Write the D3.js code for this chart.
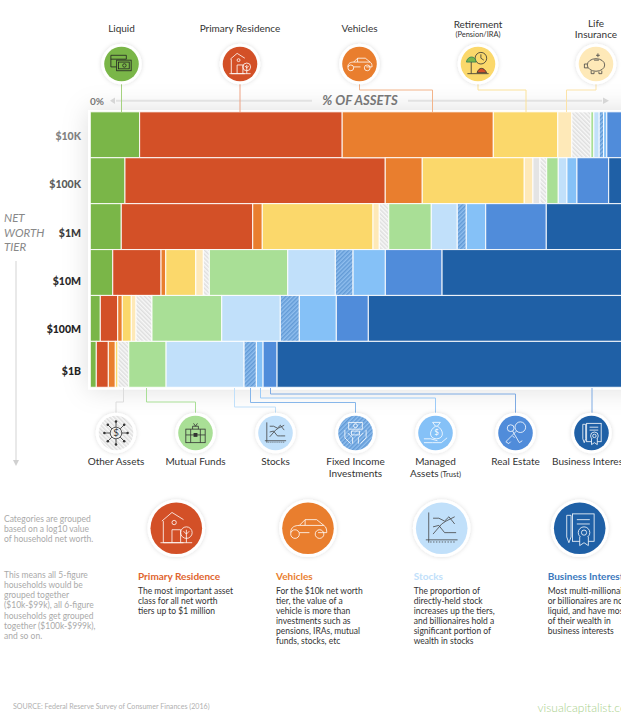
<!DOCTYPE html>
<html><head><meta charset="utf-8">
<script src="https://cdn.jsdelivr.net/npm/d3@7/dist/d3.min.js"></script>
<style>
html,body{margin:0;padding:0;background:#fff}
svg{display:block}
text{font-family:Lato,"Open Sans",sans-serif}
</style></head><body><div id="chart"></div>
<script>
const tiers=['$10K','$100K','$1M','$10M','$100M','$1B'];
const tierLabelY=[136.7,185,233.3,281.7,330,371.7];
const tierLabelColors=['#808080','#5c5c5c','#3a3a3a','#2a2a2a','#222','#222'];
const liquid=[9.1,6.4,5.72,4.14,1.85,1.11];
const primaryResidence=[37.4,48.05,24.26,8.92,3.21,2.22];
const vehicles=[27.9,6.83,1.77,0.87,0.85,1.29];
const retirement=[11.9,18.83,20.44,5.54,1.66,0.5];
const lifeInsurance=[2.6,1.6,1.16,1.4,0.87,0];
const otherPlain=[0,1.3,0,0,0,0];
const otherAssets=[3.5,1.24,1.74,1.11,2.95,1.98];
const mutualFunds=[0.55,2.14,7.86,14.47,12.87,6.89];
const stocks=[1.0,1.6,4.8,8.79,10.82,14.4];
const fixedIncome=[0.8,0,1.66,3.27,3.51,2.27];
const managedAssets=[0.6,1.85,3.58,5.96,6.83,1.24];
const realEstate=[4.65,5.85,11.19,10.47,5.91,2.58];
const businessInterests=[0,4.31,15.82,35.06,48.67,65.52];

const seriesKeys=['liquid','primaryResidence','vehicles','retirement','lifeInsurance','otherPlain','otherAssets','mutualFunds','stocks','fixedIncome','managedAssets','realEstate','businessInterests'];
const seriesValues=[liquid,primaryResidence,vehicles,retirement,lifeInsurance,otherPlain,otherAssets,mutualFunds,stocks,fixedIncome,managedAssets,realEstate,businessInterests];
const seriesColors=['#7ab648','#d35027','#e97e2e','#fbd86b','#fee9b8','#e4e4e4','url(#hatchGray)','#a9df96','#c1e0fa','url(#hatchBlue)','#85c1f7','#508cda','#1f60a6'];

const W=621,H=722;
const svg=d3.select('#chart').append('svg').attr('width',W).attr('height',H);
const defs=svg.append('defs');
function hatch(id,bg,fg,size,rot){
  const p=defs.append('pattern').attr('id',id).attr('width',size).attr('height',size)
    .attr('patternUnits','userSpaceOnUse').attr('patternTransform',`rotate(${rot})`);
  p.append('rect').attr('width',size).attr('height',size).attr('fill',bg);
  p.append('rect').attr('width',size/2).attr('height',size).attr('fill',fg);
}
hatch('hatchGray','#f8f8f8','#dedede',3,-45);
hatch('hatchBlue','#8fbeee','#639bd6',3,45);
const sh=defs.append('filter').attr('id','cardShadow').attr('x','-20%').attr('y','-20%').attr('width','140%').attr('height','140%');
sh.append('feDropShadow').attr('dx',0).attr('dy',0).attr('stdDeviation',13).attr('flood-color','#000').attr('flood-opacity',0.13);
const sh2=defs.append('filter').attr('id','iconShadow').attr('x','-40%').attr('y','-40%').attr('width','180%').attr('height','180%');
sh2.append('feDropShadow').attr('dx',0).attr('dy',0).attr('stdDeviation',2).attr('flood-color','#000').attr('flood-opacity',0.14);

svg.append('rect').attr('x',88).attr('y',110).attr('width',640).attr('height',279.5)
  .attr('fill','#fff').attr('filter','url(#cardShadow)');

const x=d3.scaleLinear().domain([0,100]).range([90.3,632]);
const y=d3.scaleBand().domain(tiers).range([111.8,387.3]);
const rows=tiers.map((t,i)=>{const o={tier:t};seriesKeys.forEach((k,j)=>o[k]=seriesValues[j][i]);return o;});
const stacked=d3.stack().keys(seriesKeys)(rows);

svg.append('g').selectAll('g').data(stacked).join('g')
  .attr('fill',(d,i)=>seriesColors[i])
  .selectAll('rect').data(d=>d.filter(s=>s[1]-s[0]>0)).join('rect')
  .attr('x',d=>x(d[0])).attr('y',d=>y(d.data.tier))
  .attr('width',d=>x(d[1])-x(d[0])).attr('height',y.bandwidth())
  .attr('stroke','#fff').attr('stroke-width',1.1).attr('stroke-opacity',0.85);

const labelScale=d3.scaleOrdinal(tiers,tierLabelY);
const axis=svg.append('g').attr('transform','translate(87,-0.5)').call(d3.axisLeft(labelScale).tickSize(0).tickPadding(6));
axis.select('.domain').remove();
axis.selectAll('text').attr('font-size',10.5).attr('font-weight',900)
  .attr('fill',(d,i)=>tierLabelColors[i]).style('font-family','Lato,sans-serif');

const T=(s,tx,ty,o={})=>svg.append('text').text(s).attr('x',tx).attr('y',ty)
  .attr('font-size',o.size||10).attr('fill',o.fill||'#333').attr('text-anchor',o.anchor||'start')
  .attr('font-weight',o.weight||400).attr('font-style',o.style||'normal');

// % of assets axis header
T('0%',90,104.5,{size:10,fill:'#777',weight:700});
T('% OF ASSETS',360,105,{size:13.2,fill:'#777',weight:700,style:'italic',anchor:'middle'});
const grid='#e2e2e2';
const ln=(a,b,c,d,col,w)=>svg.append('line').attr('x1',a).attr('y1',b).attr('x2',c).attr('y2',d).attr('stroke',col).attr('stroke-width',w||1);
ln(116,100.8,312,100.8,grid,2); ln(408,100.8,602,100.8,grid,2);
svg.append('path').attr('d','M110,100.8L115,97.5V104Z').attr('fill','#d6d6d6');
svg.append('path').attr('d','M609,100.8L603,97.5V104Z').attr('fill','#d6d6d6');
// net worth tier
['NET','WORTH','TIER'].forEach((s,i)=>T(s,4,222+i*14.5,{size:11.5,fill:'#888',style:'italic'}));
ln(16,261,16,460,grid,1.5);
svg.append('path').attr('d','M16,466L13,460H19Z').attr('fill','#d0d0d0');

// connectors
const conn=(pts,col)=>svg.append('path').attr('d',d3.line()(pts)).attr('fill','none').attr('stroke',col).attr('stroke-width',1);
conn([[121.5,84],[121.5,112]],'#a5d27f');
conn([[240,84],[240,112]],'#eea283');
conn([[359.5,84],[359.5,90],[432.5,90],[432.5,112]],'#f3b48a');
conn([[478,84],[478,90],[526,90],[526,112]],'#fbe29a');
conn([[596,84],[596,90],[566.5,90],[566.5,112]],'#fce3a8');
conn([[123.5,388],[123.5,402],[116,402],[116,413]],'#dcdcdc');
conn([[146.5,388],[146.5,402],[195.5,402],[195.5,413]],'#a9df96');
conn([[234.5,388],[234.5,407],[275.5,407],[275.5,413]],'#c1e0fa');
conn([[250.5,388],[250.5,402.5],[355.5,402.5],[355.5,413]],'#86b6ea');
conn([[260.5,388],[260.5,398],[435.5,398],[435.5,413]],'#9ccbf8');
conn([[270.5,388],[270.5,394],[515.5,394],[515.5,413]],'#7fabe3');
conn([[592,388],[592,413]],'#7fabe3');

// icons (local coordinates, roughly -12..12)
const icons={
 liquid:(g,c)=>{g.attr('stroke',c);g.append('path').attr('d','M-11,-9H5V-5M-11,-9V3H-5M-11,-5H5');g.append('rect').attr('x',-5).attr('y',-4).attr('width',15).attr('height',11).attr('fill','#7ab648');g.append('rect').attr('x',-3).attr('y',-2).attr('width',11).attr('height',7);g.append('circle').attr('cx',3).attr('cy',1.5).attr('r',1.8);},
 house:(g,c)=>{g.append('path').attr('stroke',c).attr('d','M-10,-5L-3,-11L5,-6M-9,-5V10H5M-3,10V1H3V10M-11,10H11M-3,-4a1.5,1.5 0 1,0 3,0a1.5,1.5 0 1,0 -3,0');g.append('circle').attr('stroke',c).attr('cx',7).attr('cy',3).attr('r',4);g.append('path').attr('stroke',c).attr('d','M7,1V10M5,2L7,4L9,2');},
 car:(g,c)=>{g.append('path').attr('stroke',c).attr('d','M-12,3C-12,-1 -9,-2 -6,-2L-2,-6H6L11,-2C13,-1 13,2 13,3H7M1,3H-6M-2,-6V-2H11M-6,-2H-2');g.append('circle').attr('stroke',c).attr('cx',-9).attr('cy',4).attr('r',3);g.append('circle').attr('stroke',c).attr('cx',8).attr('cy',4).attr('r',3);},
 retire:(g,c)=>{g.append('circle').attr('stroke',c).attr('cx',3).attr('cy',-6).attr('r',6);g.append('path').attr('stroke',c).attr('d','M3,-10V-6L6,-4');g.append('path').attr('stroke','#2e7d5b').attr('fill','#7ab648').attr('d','M-12,-2C-11,-9 -2,-9 -2,-2Z');g.append('path').attr('stroke','#333').attr('d','M-7,-2V10M-11,10H11');g.append('path').attr('stroke','#333').attr('fill','#d35027').attr('d','M-1,9C1,3 6,3 9,9Z');},
 pig:(g,c)=>{g.append('ellipse').attr('stroke',c).attr('cx',0).attr('cy',1).attr('rx',9).attr('ry',6.5);g.append('path').attr('stroke',c).attr('d','M-9,0H-12V4H-8M-5,7V10H-2V8M3,8V10H6V7M-2,-4H3M2,-11V-7M0,-9H4');},
 other:(g,c)=>{g.append('circle').attr('stroke',c).attr('r',6);g.append('text').text('$').attr('text-anchor','middle').attr('y',3.5).attr('font-size',10).attr('fill',c).attr('stroke','none');d3.range(8).forEach(i=>{const a=i*Math.PI/4,sx=Math.cos(a),sy=Math.sin(a);g.append('line').attr('stroke',c).attr('x1',6*sx).attr('y1',6*sy).attr('x2',12*sx).attr('y2',12*sy);g.append('circle').attr('fill',c).attr('stroke','none').attr('cx',12*sx).attr('cy',12*sy).attr('r',1.3);});},
 funds:(g,c)=>{g.append('rect').attr('stroke',c).attr('x',-10).attr('y',-4).attr('width',20).attr('height',14);g.append('path').attr('stroke',c).attr('d','M-10,2H10M-5,-4V10M5,-4V10M-3,-4V-7H3V-4M-2,-10L0,-7L2,-10');g.append('rect').attr('fill',c).attr('x',-2).attr('y',0).attr('width',4).attr('height',4);},
 stocks:(g,c)=>{g.append('path').attr('stroke',c).attr('d','M-9,-11V10M-11,8H11M-6,-7H-2L2,-5L5,-8L9,-3M-6,-1L-2,-2L2,3H5L10,3M-6,4L0,-3L3,-5L9,-8');g.append('path').attr('stroke',c).attr('stroke-dasharray','1 1').attr('d','M-8,9.5H10');},
 fixed:(g,c)=>{g.append('rect').attr('stroke',c).attr('x',-7).attr('y',-11).attr('width',14).attr('height',7);g.append('circle').attr('stroke',c).attr('cx',0).attr('cy',-7.5).attr('r',2);g.append('path').attr('stroke',c).attr('d','M-11,-3V5L-5,11M11,-3V5L5,11M-8,0L-3,5V11M8,0L3,5V11');g.append('rect').attr('stroke',c).attr('x',-4).attr('y',-2).attr('width',8).attr('height',4);},
 managed:(g,c)=>{g.append('path').attr('stroke',c).attr('d','M-3,-11H5L2,-7H0ZM0,-7C-7,-3 -7,6 1,6C9,6 9,-3 2,-7M-12,10H-3L6,10L12,5M-12,6H-5L2,8');g.append('text').text('$').attr('x',1).attr('y',2.5).attr('text-anchor','middle').attr('font-size',8).attr('fill',c).attr('stroke','none');},
 keys:(g,c)=>{g.append('circle').attr('stroke',c).attr('cx',5).attr('cy',-6).attr('r',5.5);g.append('path').attr('stroke',c).attr('d','M1,-2L-10,9L-7,11L-5,9M-3,3L-1,5');g.append('circle').attr('stroke',c).attr('cx',-5).attr('cy',-5).attr('r',3.5);g.append('path').attr('stroke',c).attr('d','M-3,-2L4,10L7,8');},
 business:(g,c)=>{g.append('rect').attr('stroke',c).attr('x',-5).attr('y',-10).attr('width',15).attr('height',19);g.append('path').attr('stroke',c).attr('d','M-2,-6H7M-2,-3H7M-9,-9H-6V6L-7.5,10L-9,6Z');g.append('circle').attr('stroke',c).attr('cx',3).attr('cy',3).attr('r',4);g.append('circle').attr('stroke',c).attr('cx',3).attr('cy',3).attr('r',1.8);g.append('path').attr('stroke',c).attr('fill','#1f60a6').attr('d','M0,6V12L3,10L6,12V6');}
};
function icon(cx,cy,r,fill,name,col){
  const g=svg.append('g').attr('transform',`translate(${cx},${cy})`);
  g.append('circle').attr('r',r+3).attr('fill','#fff').attr('filter','url(#iconShadow)');
  g.append('circle').attr('r',r).attr('fill',fill);
  const s=r/17*0.95;
  const i=g.append('g').attr('fill','none').attr('stroke-width',0.8/s).attr('transform',`scale(${s})`);
  icons[name](i,col);
}
const topIcons=[
 {x:121.5,name:'liquid',fill:'#7ab648',col:'#222',labels:['Liquid'],ly:[32]},
 {x:240,name:'house',fill:'#d35027',col:'#fff',labels:['Primary Residence'],ly:[32]},
 {x:359.5,name:'car',fill:'#e97e2e',col:'#fff',labels:['Vehicles'],ly:[32]},
 {x:478,name:'retire',fill:'#fbd86b',col:'#333',labels:['Retirement','(Pension/IRA)'],ly:[27.5,37]},
 {x:596,name:'pig',fill:'#fee9b8',col:'#444',labels:['Life','Insurance'],ly:[27,38]}];
topIcons.forEach(d=>{
  icon(d.x,64,17.3,d.fill,d.name,d.col);
  d.labels.forEach((l,i)=>T(l,d.x,d.ly[i],{anchor:'middle',size:l[0]==='('?7.5:10}));
});
const botIcons=[
 {x:116,name:'other',fill:'url(#hatchGray)',col:'#333',labels:['Other Assets']},
 {x:195.5,name:'funds',fill:'#a9df96',col:'#333',labels:['Mutual Funds']},
 {x:275.5,name:'stocks',fill:'#c1e0fa',col:'#444',labels:['Stocks']},
 {x:355.5,name:'fixed',fill:'url(#hatchBlue)',col:'#fff',labels:['Fixed Income','Investments']},
 {x:435.5,name:'managed',fill:'#85c1f7',col:'#fff',labels:['Managed','Assets']},
 {x:515.5,name:'keys',fill:'#508cda',col:'#fff',labels:['Real Estate']},
 {x:591.5,name:'business',fill:'#1f60a6',col:'#fff',labels:['Business Interests']}];
botIcons.forEach(d=>{
  icon(d.x,433,17.3,d.fill,d.name,d.col);
  d.labels.forEach((l,i)=>{
    const t=T(l,d.x,465+i*11.7,{anchor:'middle',size:10});
    if(l==='Assets') t.append('tspan').text(' (Trust)').attr('font-size',7.5);
  });
});

// lower notes
['Categories are grouped','based on a log10 value','of household net worth.'].forEach((s,i)=>T(s,4,522+i*10.2,{size:8.5,fill:'#aaa'}));
['This means all 5-figure','households would be','grouped together','($10k-$99k), all 6-figure','households get grouped','together ($100k-$999k),','and so on.'].forEach((s,i)=>T(s,4,578+i*10.15,{size:8.5,fill:'#aaa'}));

const notes=[
 {x:138,cx:176.3,name:'house',fill:'#d35027',icol:'#fff',tcol:'#e0642e',title:'Primary Residence',lines:['The most important asset','class for all net worth','tiers up to $1 million']},
 {x:276,cx:308,name:'car',fill:'#e97e2e',icol:'#fff',tcol:'#e97e2e',title:'Vehicles',lines:['For the $10k net worth','tier, the value of a','vehicle is more than','investments such as','pensions, IRAs, mutual','funds, stocks, etc']},
 {x:413.7,cx:441.7,name:'stocks',fill:'#c1e0fa',icol:'#444',tcol:'#c1e0fa',title:'Stocks',lines:['The proportion of','directly-held stock','increases up the tiers,','and billionaires hold a','significant portion of','wealth in stocks']},
 {x:547.7,cx:579.7,name:'business',fill:'#1f60a6',icol:'#fff',tcol:'#3a78bd',title:'Business Interests',lines:['Most multi-millionaires','or billionaires are not','liquid, and have most','of their wealth in','business interests']}];
notes.forEach(d=>{
  icon(d.cx,528.3,25.8,d.fill,d.name,d.icol);
  T(d.title,d.x,579.5,{size:10,weight:700,fill:d.tcol});
  d.lines.forEach((l,i)=>T(l,d.x,593.5+i*10.15,{size:8.5,fill:'#333'}));
});

T('SOURCE: Federal Reserve Survey of Consumer Finances (2016)',13,709,{size:7.1,fill:'#b0b0b0'});
T('visualcapitalist.com',537.5,711.5,{size:12,fill:'#a8cf8a',weight:300});
</script></body></html>
